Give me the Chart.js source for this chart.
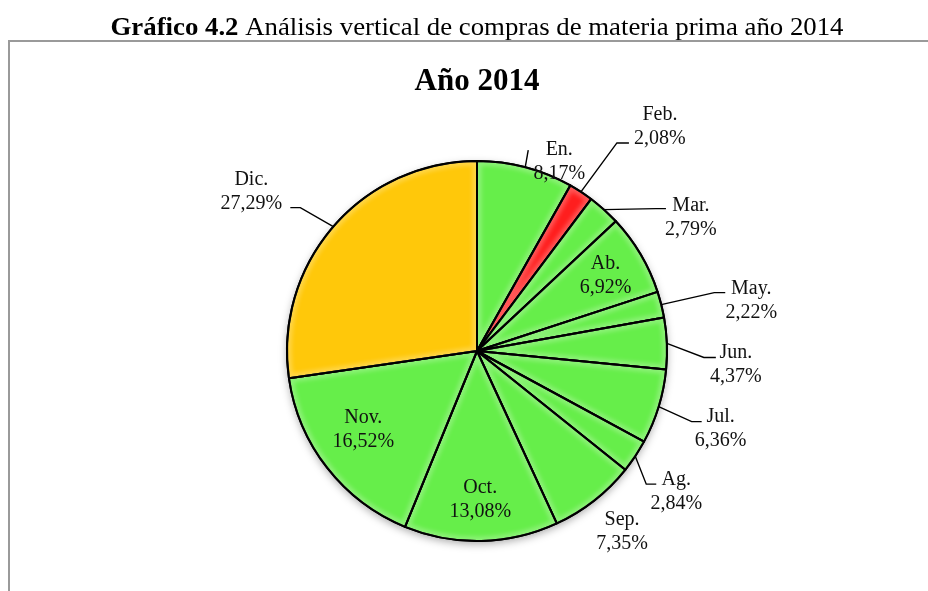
<!DOCTYPE html>
<html>
<head>
<meta charset="utf-8">
<script src="https://cdn.jsdelivr.net/npm/chart.js@4.4.0/dist/chart.umd.min.js"></script>
<style>
  body { margin: 0; background: #fff; }
  #wrap { position: relative; width: 928px; height: 591px; }
</style>
</head>
<body>
<div id="wrap"><canvas id="pieCompras" width="928" height="591"></canvas></div>
<script>
// datos del grafico (porcentajes de compras por mes)
const meses = ['En.', 'Feb.', 'Mar.', 'Ab.', 'May.', 'Jun.', 'Jul.', 'Ag.', 'Sep.', 'Oct.', 'Nov.', 'Dic.'];
const porcentajes = [8.17, 2.08, 2.79, 6.92, 2.22, 4.37, 6.36, 2.84, 7.35, 13.08, 16.52, 27.29];

const captionBold = 'Gráfico 4.2';
const captionText = ' Análisis vertical de compras de materia prima año 2014';
const chartTitle = 'Año 2014';

// colores por rebanada
const VERDE = '#66EE4A', ROJO = '#FF1E1E', ORO = '#FFC80A';
const colores = [VERDE, ROJO, VERDE, VERDE, VERDE, VERDE, VERDE, VERDE, VERDE, VERDE, VERDE, ORO];

// posicion de etiquetas: desplazamiento desde el borde del arco (punto medio)
// lead = fin de la linea guia relativo al centro de la etiqueta, elbow = tramo horizontal
const etiquetas = [
  { dx: 34, dy: -7, lead: [-31, -10], elbow: 0 },
  { dx: 79, dy: -67, lead: [-31, 18], elbow: -12 },
  { dx: 87, dy: 6, lead: [-25, -7], elbow: -10 },
  { dx: -35, dy: 19, lead: null },
  { dx: 90, dy: -6, lead: [-26, -6], elbow: -11 },
  { dx: 69, dy: 19, lead: [-20, -5], elbow: -12 },
  { dx: 62, dy: 20, lead: [-19, -5], elbow: -10 },
  { dx: 41, dy: 34, lead: [-20, -6], elbow: -10 },
  { dx: 28, dy: 29, lead: null },
  { dx: -1, dy: -43, lead: null },
  { dx: 36, dy: -40, lead: null },
  { dx: -82, dy: -37, lead: [39, 18], elbow: 10 }
];

const fmtPct = v => v.toFixed(2).replace('.', ',') + '%';

function arcPath(ctx, a) {
  ctx.beginPath();
  ctx.moveTo(a.x, a.y);
  ctx.arc(a.x, a.y, a.outerRadius, a.startAngle, a.endAngle);
  ctx.closePath();
}

const marcoPlugin = {
  id: 'marco',
  beforeDraw(chart) {
    const ctx = chart.ctx;
    ctx.save();
    ctx.fillStyle = '#fff';
    ctx.fillRect(0, 0, chart.width, chart.height);

    // leyenda superior (negrita + normal), ajustada al ancho del original
    ctx.textBaseline = 'alphabetic';
    ctx.fillStyle = '#000';
    ctx.font = 'bold 25px "Liberation Serif", "Times New Roman", serif';
    const wB = ctx.measureText(captionBold).width;
    ctx.font = '25px "Liberation Serif", "Times New Roman", serif';
    const wN = ctx.measureText(captionText).width;
    const sx = 733 / (wB + wN);
    ctx.save();
    ctx.translate(477 - 733 / 2, 35);
    ctx.scale(sx, 1);
    ctx.font = 'bold 25px "Liberation Serif", "Times New Roman", serif';
    ctx.fillText(captionBold, 0, 0);
    ctx.font = '25px "Liberation Serif", "Times New Roman", serif';
    ctx.fillText(captionText, wB, 0);
    ctx.restore();

    // marco gris
    ctx.strokeStyle = '#9a9a9a';
    ctx.lineWidth = 2;
    ctx.beginPath();
    ctx.moveTo(928, 41);
    ctx.lineTo(9, 41);
    ctx.lineTo(9, 591);
    ctx.stroke();

    // titulo del grafico
    ctx.font = 'bold 31px "Liberation Serif", "Times New Roman", serif';
    ctx.textAlign = 'center';
    ctx.textBaseline = 'middle';
    ctx.fillText(chartTitle, 477, 82);
    ctx.restore();
  },
  beforeDatasetsDraw(chart) {
    // sombra suave bajo el pastel
    const a = chart.getDatasetMeta(0).data[0];
    if (!a) return;
    const ctx = chart.ctx;
    ctx.save();
    ctx.shadowColor = 'rgba(0,0,0,0.35)';
    ctx.shadowBlur = 8;
    ctx.shadowOffsetY = 3;
    ctx.fillStyle = '#fff';
    ctx.beginPath();
    ctx.arc(a.x, a.y, a.outerRadius, 0, Math.PI * 2);
    ctx.fill();
    ctx.restore();
  }
};

const etiquetasPlugin = {
  id: 'etiquetas',
  afterDatasetsDraw(chart) {
    const ctx = chart.ctx;
    const arcs = chart.getDatasetMeta(0).data;

    // efecto biselado suave
    arcs.forEach(a => {
      ctx.save();
      arcPath(ctx, a);
      ctx.clip();
      ctx.filter = 'blur(2px)';
      ctx.strokeStyle = 'rgba(255,255,255,0.25)';
      ctx.lineWidth = 9;
      arcPath(ctx, a);
      ctx.stroke();
      ctx.restore();
      ctx.save();
      ctx.strokeStyle = '#000';
      ctx.lineWidth = 2;
      ctx.lineJoin = 'round';
      arcPath(ctx, a);
      ctx.stroke();
      ctx.restore();
    });

    ctx.save();
    ctx.font = '20px "Liberation Serif", "Times New Roman", serif';
    ctx.textAlign = 'center';
    ctx.textBaseline = 'middle';
    arcs.forEach((a, i) => {
      const lay = etiquetas[i];
      const mid = (a.startAngle + a.endAngle) / 2;
      const px = a.x + Math.cos(mid) * a.outerRadius;
      const py = a.y + Math.sin(mid) * a.outerRadius;
      const cx = px + lay.dx;
      const cy = py + lay.dy;

      if (lay.lead) {
        const ex = cx + lay.lead[0];
        const ey = cy + lay.lead[1];
        ctx.strokeStyle = '#000';
        ctx.lineWidth = 1.4;
        ctx.beginPath();
        ctx.moveTo(px, py);
        ctx.lineTo(ex + lay.elbow, ey);
        ctx.lineTo(ex, ey);
        ctx.stroke();
      }

      ctx.fillStyle = '#111';
      ctx.fillText(meses[i], cx, cy - 10);
      ctx.fillText(fmtPct(porcentajes[i]), cx, cy + 14);
    });
    ctx.restore();
  }
};

new Chart(document.getElementById('pieCompras'), {
  type: 'pie',
  data: {
    labels: meses,
    datasets: [{
      data: porcentajes,
      backgroundColor: colores,
      borderColor: '#000',
      borderWidth: 2
    }]
  },
  options: {
    responsive: false,
    animation: false,
    layout: { padding: { left: 286, right: 260, top: 160, bottom: 49 } },
    plugins: {
      legend: { display: false },
      tooltip: { enabled: false },
      title: { display: false }
    }
  },
  plugins: [marcoPlugin, etiquetasPlugin]
});
</script>
</body>
</html>
